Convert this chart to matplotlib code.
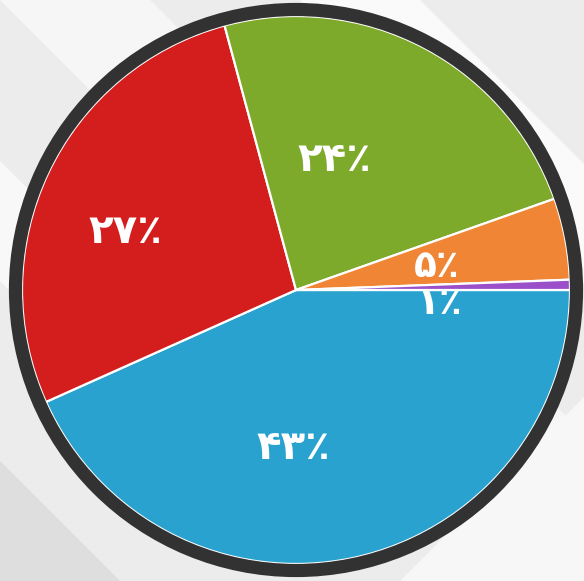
import matplotlib
matplotlib.use("Agg")
import matplotlib.pyplot as plt
from matplotlib.patches import Circle, Polygon
import numpy as np

# Data (shares)
categories = ["A", "B", "C", "D", "E"]
values = [43.3, 27.5, 23.8, 4.8, 0.6]
labels = ["۴۳٪", "۲۷٪", "۲۴٪", "۵٪", "۱٪"]

colors = ["#2aa2cf", "#d41d1d", "#7eaa2b", "#ef8535", "#9b4fc9"]
label_pos = [(-0.011, -0.577), (-0.624, 0.212), (0.142, 0.474), (0.515, 0.085), (0.526, -0.05)]
label_size = [29, 29, 29, 27, 27]

W, H = 584, 581
fig = plt.figure(figsize=(W / 100, H / 100), dpi=100)
fig.patch.set_facecolor("#ececec")
ax = fig.add_axes([0, 0, 1, 1])
ax.set_xlim(0, W)
ax.set_ylim(0, H)
ax.set_aspect("equal")
ax.axis("off")

# decorative background bands
bands = [
    ([(0, 581), (150, 581), (581, 150), (581, 0)], "#f6f6f6"),
    ([(300, 581), (420, 581), (584, 417), (584, 297)], "#fafafa"),
    ([(0, 420), (0, 300), (160, 140), (220, 200)], "#f8f8f8"),
    ([(0, 120), (0, 0), (120, 0)], "#dedede"),
    ([(400, 0), (584, 0), (584, 184)], "#f7f7f7"),
]
for pts, c in bands:
    ax.add_patch(Polygon(pts, closed=True, facecolor=c, edgecolor="none", zorder=0))

cx, cy, r = 296, 291, 274
wedges, _ = ax.pie(values, colors=colors, startangle=0, counterclock=False,
                   center=(cx, cy), radius=r, frame=True,
                   wedgeprops=dict(edgecolor="white", linewidth=1.6))
for w in wedges:
    w.set_zorder(2)
ax.set_xlim(0, W)
ax.set_ylim(0, H)
ax.axis("off")

ax.add_patch(Circle((cx, cy), r + 6.5, facecolor="none", edgecolor="#323232",
                    linewidth=9.5, zorder=3))

for lab, (px, py), fs in zip(labels, label_pos, label_size):
    ax.text(cx + px * r, cy + py * r, lab, color="white", fontsize=fs,
            fontweight="bold", ha="center", va="center", zorder=4,
            family=["DejaVu Sans"])

fig.savefig("out.png", dpi=100, facecolor=fig.get_facecolor())
